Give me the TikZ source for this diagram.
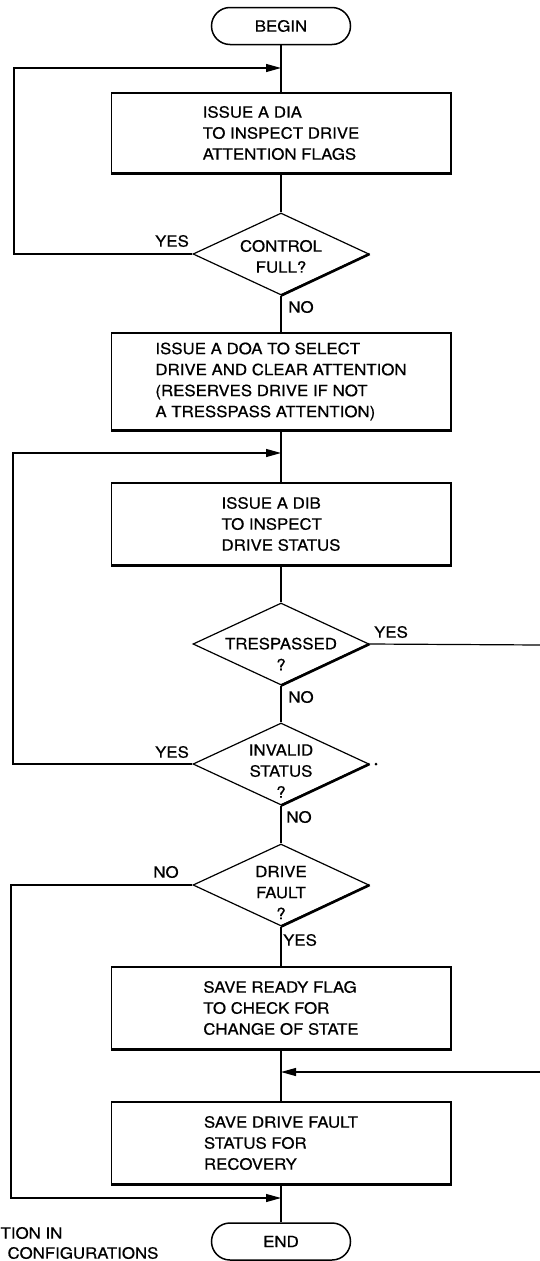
\documentclass[tikz,border=0pt]{standalone}
\usepackage{fontspec}
\setmainfont{TeX Gyre Heros}[FakeStretch=1.08, FakeBold=0.6]
\usetikzlibrary{shapes.geometric,arrows.meta}
\begin{document}
\begin{tikzpicture}[x=1pt,y=-1pt,
  line width=1.2pt,
  every node/.style={font=\fontsize{15.6}{21}\selectfont},
  box/.style={draw, rectangle, minimum width=339pt, align=left, inner sep=0pt},
  term/.style={draw, rectangle, rounded corners=18.5pt, minimum width=139pt, minimum height=37pt, line width=1.5pt},
  dia/.style={draw, diamond, minimum width=176pt, minimum height=82pt, inner sep=0pt},
  txt/.style={align=center, inner sep=0pt},
  lbl/.style={inner sep=0pt},
  shade/.style={line width=2.6pt},
  arr/.style={-{Triangle[length=15pt,width=8pt]}},
]
\useasboundingbox (0,0) rectangle (540,1261);

% nodes
\node[term] (begin) at (281,26) {BEGIN};
\node[box, minimum height=80pt] (b1) at (281,133) {ISSUE A DIA\\TO INSPECT DRIVE\\ATTENTION FLAGS};
\node[dia] (d1) at (281,254) {};
\node[txt] (d1t) at (281,256.5) {CONTROL\\FULL?};
\node[box, minimum height=97pt] (b2) at (281,381.5) {ISSUE A DOA TO SELECT\\DRIVE AND CLEAR ATTENTION\\(RESERVES DRIVE IF NOT\\A TRESSPASS ATTENTION)};
\node[box, minimum height=82pt] (b3) at (281,524) {ISSUE A DIB\\TO INSPECT\\DRIVE STATUS};
\node[dia] (d3) at (281,644) {};
\node[txt] (d3t) at (281,654) {TRESPASSED\\?};
\node[dia] (d4) at (281,764) {};
\node[txt] (d4t) at (281,771) {INVALID\\STATUS\\?};
\node[dia] (d5) at (281,885) {};
\node[txt] (d5t) at (281,892.5) {DRIVE\\FAULT\\?};
\node[box, minimum height=82pt] (b4) at (281,1008) {SAVE READY FLAG\\TO CHECK FOR\\CHANGE OF STATE};
\node[box, minimum height=82pt] (b5) at (281,1143) {SAVE DRIVE FAULT\\STATUS FOR\\RECOVERY};
\node[term] (end) at (281,1241.5) {END};

% shadows
\foreach \b in {b1,b2,b3,b4,b5}{
  \draw[shade] (\b.north east) -- (\b.south east) -- (\b.south west);
}
\foreach \d in {d1,d3,d4,d5}{
  \draw[shade] (\d.east) -- (\d.south);
}

% labels
\node[lbl] (y1) at (172,241) {YES};
\node[lbl] (n1) at (301,307) {NO};
\node[lbl] (y3) at (391,632) {YES};
\node[lbl] (n3) at (301,697) {NO};
\node[lbl] (y4) at (172,752) {YES};
\node[lbl] (n4) at (299,817) {NO};
\node[lbl] (n5) at (166,872) {NO};
\node[lbl] (y5) at (300,940) {YES};
\fill (376,764) circle[radius=1.5pt];

\node[lbl, anchor=west] (fn1) at (0,1233) {TION IN};
\node[lbl, anchor=west] (fn2) at (7,1253) {CONFIGURATIONS};

% coordinates
\coordinate (j1) at (281,68);
\coordinate (l1) at (14,68);
\coordinate (j2) at (281,453);
\coordinate (l2) at (13,453);
\coordinate (r1) at (541,645);
\coordinate (r2) at (541,1072);
\coordinate (j4) at (281,1072);
\coordinate (l3) at (11,1198);
\coordinate (j5) at (281,1198);

% connectors
\draw (begin) -- (b1);
\draw (b1) -- (d1);
\draw (d1) -- (b2);
\draw (b2) -- (b3);
\draw (b3) -- (d3);
\draw (d3) -- (d4);
\draw (d4) -- (d5);
\draw (d5) -- (b4);
\draw (b4) -- (b5);
\draw (b5) -- (end);
\draw[arr] (d1.west) -| (l1) -- (j1);
\draw[arr] (d4.west) -| (l2) -- (j2);
\draw (d3.east) -- (r1);
\draw[arr] (r2) -- (j4);
\draw[arr] (d5.west) -| (l3) -- (j5);
\end{tikzpicture}
\end{document}
